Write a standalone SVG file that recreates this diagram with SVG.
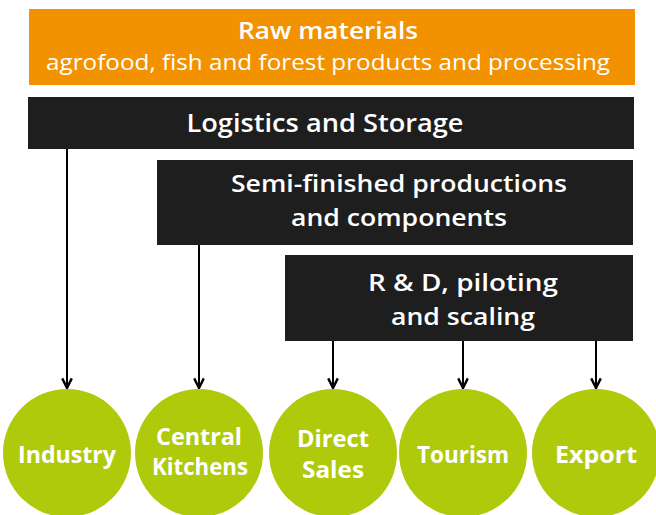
<svg xmlns="http://www.w3.org/2000/svg" width="656" height="515" viewBox="0 0 656 515">
<defs>
<style>
.t{font-family:"Open Sans","Liberation Sans",sans-serif;fill:#fff;text-anchor:middle}
.b{font-weight:600}
.bb{font-weight:bold}
.dark{fill:#1e1e1e}
.node{fill:#afca0b}
.conn{stroke:#000;stroke-width:2;fill:none}
</style>
<marker id="ar" viewBox="0 0 10 10" refX="9" refY="5" markerWidth="6" markerHeight="6" orient="auto" markerUnits="strokeWidth">
<path d="M1,1 L9,5 L1,9" fill="none" stroke="#000" stroke-width="2"/>
</marker>
</defs>
<rect width="656" height="515" fill="#fff"/>
<g id="raw">
<rect x="29" y="9" width="606" height="76" fill="#f39200"/>
<text class="t b" x="328" y="39" font-size="24" textLength="180" lengthAdjust="spacingAndGlyphs">Raw materials</text>
<text class="t" x="328" y="70" font-size="22" textLength="564" lengthAdjust="spacingAndGlyphs">agrofood, fish and forest products and processing</text>
</g>
<g id="logistics">
<rect class="dark" x="28" y="97" width="606" height="52"/>
<text class="t b" x="325" y="132" font-size="25" textLength="277" lengthAdjust="spacingAndGlyphs">Logistics and Storage</text>
</g>
<g id="semi">
<rect class="dark" x="157" y="160" width="476" height="85"/>
<text class="t b" x="399" y="192" font-size="24" textLength="336" lengthAdjust="spacingAndGlyphs">Semi-finished productions</text>
<text class="t b" x="399" y="226" font-size="24" textLength="216" lengthAdjust="spacingAndGlyphs">and components</text>
</g>
<g id="rd">
<rect class="dark" x="285" y="255" width="348" height="86"/>
<text class="t b" x="463" y="291" font-size="24" textLength="190" lengthAdjust="spacingAndGlyphs">R &amp; D, piloting</text>
<text class="t b" x="463" y="325" font-size="24" textLength="144" lengthAdjust="spacingAndGlyphs">and scaling</text>
</g>
<g id="connectors">
<line class="conn" x1="67" y1="149" x2="67" y2="388" marker-end="url(#ar)"/>
<line class="conn" x1="199" y1="245" x2="199" y2="388" marker-end="url(#ar)"/>
<line class="conn" x1="333" y1="341" x2="333" y2="388" marker-end="url(#ar)"/>
<line class="conn" x1="463" y1="341" x2="463" y2="388" marker-end="url(#ar)"/>
<line class="conn" x1="596" y1="341" x2="596" y2="388" marker-end="url(#ar)"/>
</g>
<g id="industry">
<ellipse class="node" cx="67" cy="453" rx="64" ry="64"/>
<text class="t bb" x="67" y="463" font-size="24" textLength="98" lengthAdjust="spacingAndGlyphs">Industry</text>
</g>
<g id="central">
<ellipse class="node" cx="199" cy="453" rx="64" ry="64"/>
<text class="t bb" x="199" y="445" font-size="24" textLength="86" lengthAdjust="spacingAndGlyphs">Central</text>
<text class="t bb" x="200" y="475" font-size="24" textLength="96" lengthAdjust="spacingAndGlyphs">Kitchens</text>
</g>
<g id="direct">
<ellipse class="node" cx="333" cy="453" rx="64" ry="64"/>
<text class="t bb" x="333" y="447" font-size="24" textLength="72" lengthAdjust="spacingAndGlyphs">Direct</text>
<text class="t bb" x="333" y="478" font-size="24" textLength="62" lengthAdjust="spacingAndGlyphs">Sales</text>
</g>
<g id="tourism">
<ellipse class="node" cx="463" cy="453" rx="64" ry="64"/>
<text class="t bb" x="463" y="463" font-size="24" textLength="92" lengthAdjust="spacingAndGlyphs">Tourism</text>
</g>
<g id="export">
<ellipse class="node" cx="596" cy="453" rx="64" ry="64"/>
<text class="t bb" x="596" y="463" font-size="24" textLength="82" lengthAdjust="spacingAndGlyphs">Export</text>
</g>
</svg>
